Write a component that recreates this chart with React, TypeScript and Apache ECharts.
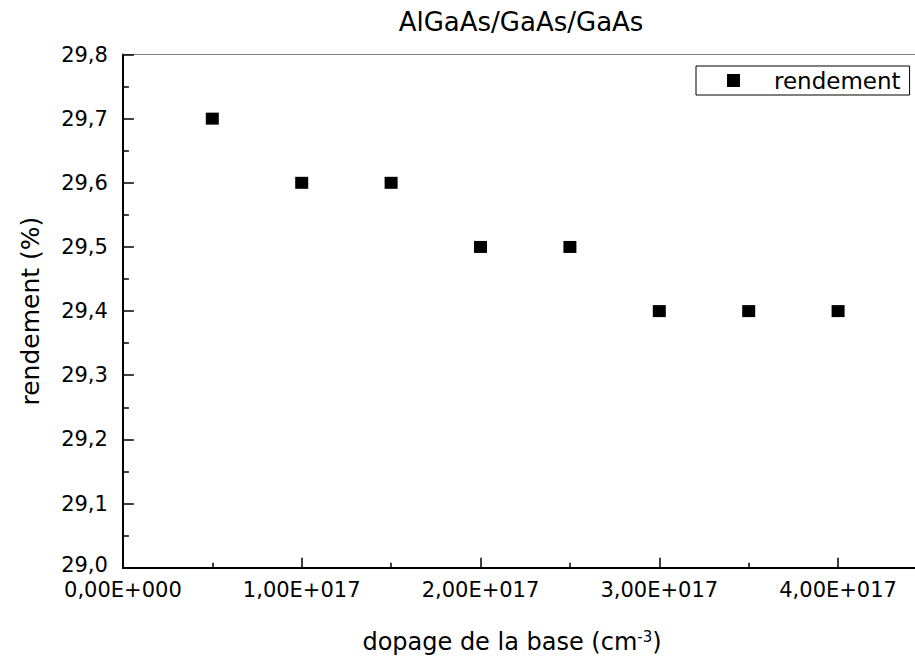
import React, { useEffect, useRef } from "react";
import * as echarts from "echarts";

const titleText = "AlGaAs/GaAs/GaAs";
const xAxisTitle = "dopage de la base (cm";
const xAxisTitleSup = "-3";
const yAxisTitle = "rendement (%)";
const seriesName = "rendement";
const dopage = [0.5e17, 1.0e17, 1.5e17, 2.0e17, 2.5e17, 3.0e17, 3.5e17, 4.0e17];
const rendement = [29.7, 29.6, 29.6, 29.5, 29.5, 29.4, 29.4, 29.4];
const yMin = 29.0;
const yMax = 29.8;
const yStep = 0.1;
const xMin = 0;
const xMax = 5e17;
const xStep = 1e17;
const xLastLabel = 4e17;

const FONT = "'DejaVu Sans', 'Liberation Sans', Arial, sans-serif";

function fmtX(v: number): string {
  if (Math.abs(v / xStep - Math.round(v / xStep)) > 1e-6) return "";
  if (v > xLastLabel * 1.0001) return "";
  if (v === 0) return "0,00E+000";
  const e = Math.floor(Math.log10(Math.abs(v)) + 1e-9);
  const m = v / Math.pow(10, e);
  return m.toFixed(2).replace(".", ",") + "E+" + String(e).padStart(3, "0");
}

function fmtY(v: number): string {
  const s = v.toFixed(1).replace(".", ",");
  return Math.abs(v - yMin) < 1e-9 ? "{lo|" + s + "}" : s;
}

export default function App() {
  const ref = useRef<HTMLDivElement>(null);
  useEffect(() => {
    if (!ref.current) return;
    const chart = echarts.init(ref.current, null, { renderer: "svg" });
    chart.setOption({
      animation: false,
      backgroundColor: "#ffffff",
      textStyle: { fontFamily: FONT },
      title: [
        {
          text: titleText,
          left: 516,
          textAlign: "center",
          top: 4,
          textStyle: { fontFamily: FONT, fontSize: 26, fontWeight: "normal", color: "#000" },
        },
        {
          text: "{a|" + xAxisTitle + "}{s|" + xAxisTitleSup + "}{a|)}",
          left: 512,
          textAlign: "center",
          top: 629,
          padding: 0,
          textStyle: {
            fontWeight: "normal",
            rich: {
              a: { fontFamily: FONT, fontSize: 24, fontWeight: "normal", color: "#000" },
              s: { fontFamily: FONT, fontSize: 15, fontWeight: "normal", color: "#000", padding: [0, 0, 11, 0] },
            },
          },
        },
      ],
      legend: {
        data: [{ name: seriesName, icon: "rect" }],
        left: 696,
        top: 66,
        orient: "vertical",
        borderColor: "#000",
        borderWidth: 1,
        borderRadius: 0,
        padding: [3, 9, 3, 31],
        itemWidth: 13,
        itemHeight: 13,
        itemGap: 0,
        textStyle: { fontFamily: FONT, fontSize: 23, color: "#000", padding: [0, 0, 0, 29] },
      },
      grid: {
        left: 122.9,
        top: 54.5,
        width: 894,
        bottom: 91.3,
        containLabel: false,
        outerBoundsMode: "none",
      },
      xAxis: [
        {
          type: "value",
          min: xMin,
          max: xMax,
          interval: xStep,
          position: "bottom",
          axisLine: { show: true, lineStyle: { color: "#000", width: 2 } },
          axisTick: { show: true, inside: true, length: 10, lineStyle: { color: "#000", width: 1.5 } },
          minorTick: { show: true, splitNumber: 2, length: 5, lineStyle: { color: "#000", width: 1.5 } },
          axisLabel: {
            formatter: fmtX,
            showMaxLabel: false,
            fontFamily: FONT,
            fontSize: 21,
            color: "#000",
            margin: 13,
            lineHeight: 18,
          },
          splitLine: { show: false },
          minorSplitLine: { show: false },
        },
        {
          type: "value",
          min: xMin,
          max: xMax,
          position: "top",
          axisLine: { show: true, lineStyle: { color: "#808080", width: 1 } },
          axisTick: { show: false },
          axisLabel: { show: false },
          splitLine: { show: false },
        },
      ],
      yAxis: {
        type: "value",
        min: yMin,
        max: yMax,
        interval: yStep,
        name: yAxisTitle,
        nameLocation: "middle",
        nameGap: 80,
        nameTextStyle: { fontFamily: FONT, fontSize: 25, color: "#000" },
        axisLine: { show: true, lineStyle: { color: "#000", width: 2 } },
        axisTick: { show: true, inside: true, length: 11, lineStyle: { color: "#000", width: 1.5 } },
        minorTick: { show: true, splitNumber: 2, length: 6, lineStyle: { color: "#000", width: 1.5 } },
        axisLabel: {
          formatter: fmtY,
          fontFamily: FONT,
          fontSize: 21,
          lineHeight: 14,
          color: "#000",
          margin: 15,
          rich: {
            lo: { fontFamily: FONT, fontSize: 21, lineHeight: 14, color: "#000", padding: [0, 0, 5, 0] },
          },
        },
        splitLine: { show: false },
        minorSplitLine: { show: false },
      },
      series: [
        {
          name: seriesName,
          type: "scatter",
          symbol: "rect",
          symbolSize: [13, 12],
          itemStyle: { color: "#000", opacity: 1 },
          data: dopage.map((x, i) => [x, rendement[i]]),
        },
      ],
    });
    return () => chart.dispose();
  }, []);
  return (
    <div
      ref={ref}
      style={{ position: "fixed", left: 0, top: 0, width: 915, height: 659, overflow: "hidden" }}
    />
  );
}
